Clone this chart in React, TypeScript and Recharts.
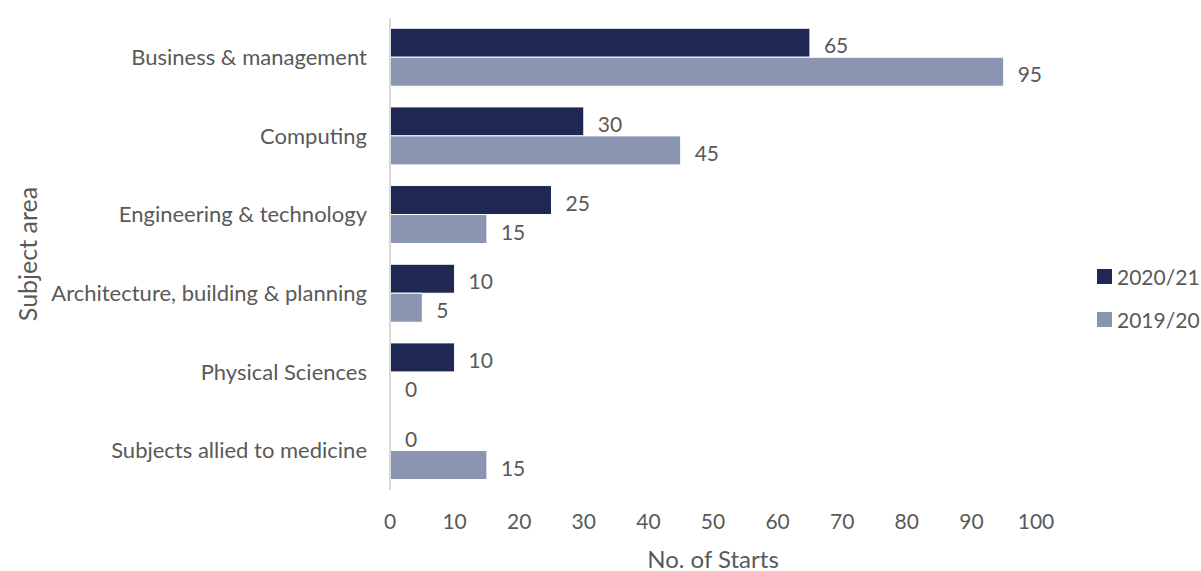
import { BarChart, Bar, XAxis, YAxis, LabelList } from "recharts";

const categories = [
  "Business & management",
  "Computing",
  "Engineering & technology",
  "Architecture, building & planning",
  "Physical Sciences",
  "Subjects allied to medicine",
];
const starts2021 = [65, 30, 25, 10, 10, 0];
const starts1920 = [95, 45, 15, 5, 0, 15];
const xTicks = [0, 10, 20, 30, 40, 50, 60, 70, 80, 90, 100];

const DARK = "#1e2852";
const LIGHT = "#8a95b2";
const TEXT = "#595959";
const FONT = "Lato, 'Open Sans', sans-serif";

const data = categories.map((name, i) => ({
  name,
  y2021: starts2021[i],
  y1920: starts1920[i],
}));

const legendItems = [
  { label: "2020/21", color: DARK },
  { label: "2019/20", color: LIGHT },
];

// value label, anchored to the bar end (zero bars too)
const valueLabel = (p: any) => {
  const { x, y, width, height, value } = p;
  return (
    <text
      x={Number(x) + Number(width) + 14}
      y={Number(y) + Number(height) / 2 + 2}
      dominantBaseline="central"
      fill={TEXT}
      fontSize={21}
      fontFamily={FONT}
    >
      {value}
    </text>
  );
};

function LegendBox() {
  return (
    <div
      style={{
        position: "absolute",
        left: 1097,
        top: 255,
        fontFamily: FONT,
        fontSize: 21,
        color: TEXT,
      }}
    >
      {legendItems.map((it) => (
        <div key={it.label} style={{ display: "flex", alignItems: "center", height: 43 }}>
          <span style={{ width: 15, height: 15, background: it.color, marginRight: 5, display: "inline-block" }} />
          <span>{it.label}</span>
        </div>
      ))}
    </div>
  );
}

export default function App() {
  return (
    <div style={{ position: "absolute", left: 0, top: 0, width: 1201, height: 571, background: "#fff" }}>
      <BarChart
        width={1201}
        height={571}
        data={data}
        layout="vertical"
        margin={{ top: 18, right: 165, bottom: 0, left: 0 }}
        barCategoryGap="13%"
        barGap={0}
      >
        <XAxis
          type="number"
          domain={[0, 100]}
          ticks={xTicks}
          axisLine={false}
          tickLine={false}
          tickMargin={18}
          height={81}
          tick={{ fontSize: 21, fill: TEXT, fontFamily: FONT }}
          label={{
            content: (p: any) => {
              const vb = p.viewBox;
              return (
                <text
                  x={vb.x + vb.width / 2}
                  y={vb.y + 68}
                  textAnchor="middle"
                  dominantBaseline="central"
                  fill={TEXT}
                  fontSize={24}
                  fontFamily={FONT}
                >
                  No. of Starts
                </text>
              );
            },
          }}
        />
        <YAxis
          type="category"
          dataKey="name"
          width={390}
          axisLine={{ stroke: "#d9d9d9", strokeWidth: 2 }}
          tickLine={false}
          tickMargin={17}
          tick={{ fontSize: 22, fill: TEXT, fontFamily: FONT }}
          label={{
            content: (p: any) => {
              const vb = p.viewBox;
              const cy = vb.y + vb.height / 2;
              return (
                <text
                  x={27}
                  y={cy}
                  textAnchor="middle"
                  dominantBaseline="central"
                  transform={`rotate(-90 27 ${cy})`}
                  fill={TEXT}
                  fontSize={25}
                  fontFamily={FONT}
                >
                  Subject area
                </text>
              );
            },
          }}
        />
        <Bar
          dataKey="y2021"
          name="2020/21"
          fill={DARK}
          stroke="#ffffff"
          strokeWidth={1}
          minPointSize={1}
          isAnimationActive={false}
        >
          <LabelList dataKey="y2021" content={valueLabel} />
        </Bar>
        <Bar
          dataKey="y1920"
          name="2019/20"
          fill={LIGHT}
          stroke="#ffffff"
          strokeWidth={1}
          minPointSize={1}
          isAnimationActive={false}
        >
          <LabelList dataKey="y1920" content={valueLabel} />
        </Bar>
      </BarChart>
      <LegendBox />
    </div>
  );
}
